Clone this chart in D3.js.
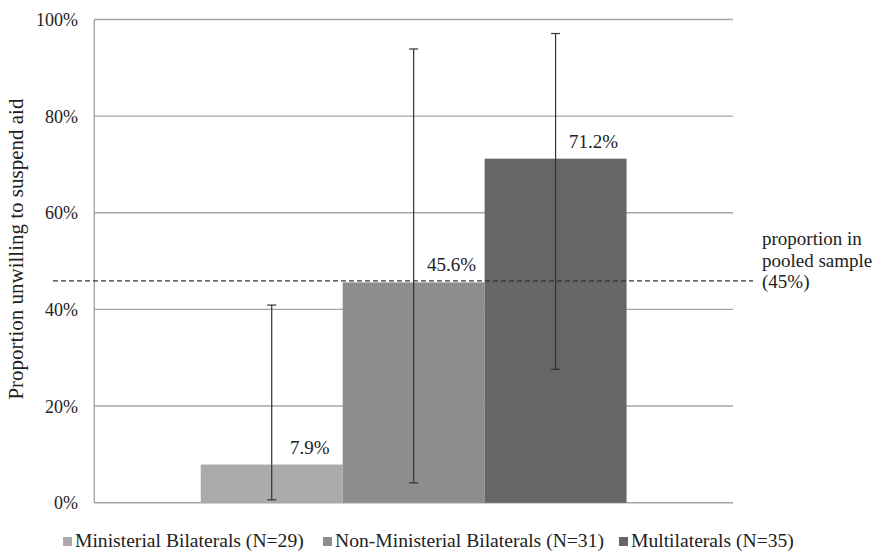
<!DOCTYPE html>
<html>
<head>
<meta charset="utf-8">
<script src="https://cdn.jsdelivr.net/npm/d3@7"></script>
<style>
  html, body { margin: 0; padding: 0; background: #fff; }
  svg { display: block; }
</style>
</head>
<body>
<svg id="chart" width="877" height="551"></svg>
<script>
// ---- data ----
const series = ["Ministerial Bilaterals (N=29)", "Non-Ministerial Bilaterals (N=31)", "Multilaterals (N=35)"];
const values = [0.079, 0.456, 0.712];
const valueLabels = ["7.9%", "45.6%", "71.2%"];
const ciLow = [0.006, 0.041, 0.276];
const ciHigh = [0.409, 0.939, 0.971];
const pooled = 0.459;
const pooledLabel = ["proportion in", "pooled sample", "(45%)"];
const yTicks = [0, 0.2, 0.4, 0.6, 0.8, 1.0];
const colors = ["#ababab", "#8d8d8d", "#666666"];
const yTitle = "Proportion unwilling to suspend aid";

// ---- layout ----
const FONT = '"Liberation Serif"';
const svg = d3.select("#chart");
const plotLeft = 94.3, plotRight = 733, plotTop = 19.5, plotBottom = 502.7;

const y = d3.scaleLinear().domain([0, 1]).range([plotBottom, plotTop]);
const x0 = d3.scaleBand().domain([""]).range([plotLeft, plotRight]).paddingInner(0).paddingOuter(0.25);
const x1 = d3.scaleBand().domain(series).range([0, x0.bandwidth()]).padding(0);

// gridlines
svg.append("g").selectAll("line").data(yTicks).join("line")
  .attr("x1", plotLeft).attr("x2", plotRight)
  .attr("y1", d => y(d)).attr("y2", d => y(d))
  .attr("stroke", "#a6a6a6").attr("stroke-width", 1.4);

// left axis line
svg.append("line")
  .attr("x1", plotLeft).attr("x2", plotLeft).attr("y1", y(0)).attr("y2", y(1))
  .attr("stroke", "#a6a6a6").attr("stroke-width", 1.4);

// y tick labels
const yAxis = d3.axisLeft(y).tickValues(yTicks).tickFormat(d3.format(".0%")).tickSize(0).tickPadding(0);
const gy = svg.append("g").attr("transform", `translate(${78},0)`).call(yAxis);
gy.attr("font-family", FONT).attr("font-size", 18);
gy.select(".domain").remove();
gy.selectAll("text")
  .style("font-family", FONT).style("font-size", "18px")
  .attr("fill", "#222").attr("dy", "0.34em");

// y title
svg.append("text")
  .attr("transform", `translate(23,${(y(0.3) + y(0.7)) / 2 - 12}) rotate(-90)`)
  .attr("text-anchor", "middle")
  .style("font-family", FONT).style("font-size", "21px")
  .attr("fill", "#222")
  .text(yTitle);

// bars
const g = svg.append("g").attr("transform", `translate(${x0("")},0)`);
g.selectAll("rect").data(series).join("rect")
  .attr("x", d => x1(d))
  .attr("width", x1.bandwidth())
  .attr("y", (d, i) => y(values[i]))
  .attr("height", (d, i) => y(0) - y(values[i]))
  .attr("fill", (d, i) => colors[i]);

// pooled dashed line
svg.append("line")
  .attr("x1", 53).attr("x2", 753)
  .attr("y1", y(pooled)).attr("y2", y(pooled))
  .attr("stroke", "#333").attr("stroke-width", 1.3)
  .attr("stroke-dasharray", "5,3");

// error bars
const cx = d => x0("") + x1(d) + x1.bandwidth() / 2;
const eb = svg.append("g").attr("stroke", "#333").attr("stroke-width", 1.2);
eb.selectAll("line.v").data(series).join("line").attr("class", "v")
  .attr("x1", cx).attr("x2", cx)
  .attr("y1", (d, i) => y(ciLow[i])).attr("y2", (d, i) => y(ciHigh[i]));
eb.selectAll("line.t").data(series).join("line").attr("class", "t")
  .attr("x1", d => cx(d) - 4.5).attr("x2", d => cx(d) + 4.5)
  .attr("y1", (d, i) => y(ciHigh[i])).attr("y2", (d, i) => y(ciHigh[i]));
eb.selectAll("line.b").data(series).join("line").attr("class", "b")
  .attr("x1", d => cx(d) - 4.5).attr("x2", d => cx(d) + 4.5)
  .attr("y1", (d, i) => y(ciLow[i])).attr("y2", (d, i) => y(ciLow[i]));

// value labels
svg.append("g").selectAll("text").data(series).join("text")
  .attr("x", d => cx(d) + 38)
  .attr("y", (d, i) => y(values[i]) - 11)
  .attr("text-anchor", "middle")
  .style("font-family", FONT).style("font-size", "19px")
  .attr("fill", "#222")
  .text((d, i) => valueLabels[i]);

// pooled annotation
svg.append("g").selectAll("text").data(pooledLabel).join("text")
  .attr("x", 762)
  .attr("y", (d, i) => 245 + i * 21.5)
  .style("font-family", FONT).style("font-size", "19px")
  .attr("fill", "#222")
  .text(d => d);

// legend
const legendX = [63, 323, 619];
const lg = svg.append("g");
lg.selectAll("rect").data(series).join("rect")
  .attr("x", (d, i) => legendX[i]).attr("y", 537)
  .attr("width", 9).attr("height", 9)
  .attr("fill", (d, i) => colors[i]);
lg.selectAll("text").data(series).join("text")
  .attr("x", (d, i) => legendX[i] + 12).attr("y", 547)
  .style("font-family", FONT).style("font-size", "19.6px")
  .attr("fill", "#222")
  .text(d => d);
</script>
</body>
</html>
